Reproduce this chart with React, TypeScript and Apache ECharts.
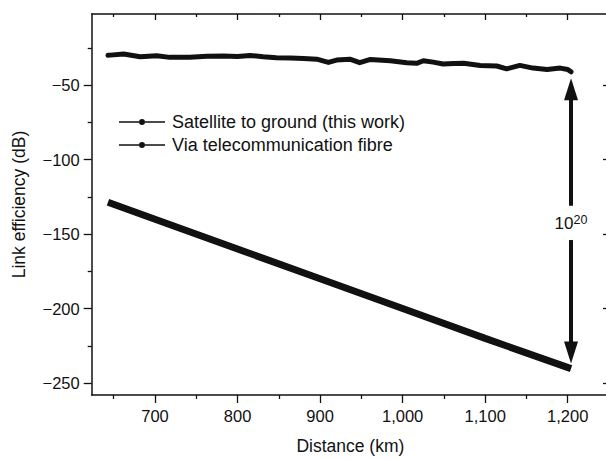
import React, { useEffect, useRef } from 'react';
import * as echarts from 'echarts';

// ---- data ----
const SAT_KM = [643, 646, 662, 682, 702, 718, 742, 763, 783, 800, 815, 831, 847, 864, 880, 896, 910, 920, 936, 948, 961, 985, 1005, 1017, 1025, 1037, 1049, 1062, 1074, 1094, 1114, 1126, 1142, 1158, 1175, 1191, 1200, 1204];
const SAT_DB = [-30.0, -29.9, -29.2, -31.0, -30.3, -31.4, -31.4, -30.7, -30.5, -30.8, -30.1, -31.0, -31.7, -31.9, -32.2, -32.6, -34.8, -33.2, -32.6, -35.0, -32.8, -33.7, -35.0, -35.4, -33.7, -34.6, -35.9, -35.5, -35.4, -36.8, -37.2, -39.1, -36.8, -38.6, -39.5, -38.6, -39.5, -41.1];
const FIB_KM = [643, 700, 800, 900, 1000, 1100, 1204];
const FIB_DB = [-128.6, -140, -160, -180, -200, -220, -240.3];

const X_MAJOR = [700, 800, 900, 1000, 1100, 1200];
const X_MINOR = [650, 750, 850, 950, 1050, 1150, 1250];
const Y_MAJOR = [-50, -100, -150, -200, -250];
const Y_MINOR = [-25, -75, -125, -175, -225];
const X_RANGE = [623.3, 1250];
const Y_RANGE = [-258, -2.3];

const SERIES_NAMES = ['Satellite to ground (this work)', 'Via telecommunication fibre'];

// double-headed arrow (head centres / shaft ends) and its label
const ARROW_KM = 1204;
const ARROW_UP = [-52.8, -131];
const ARROW_DOWN = [-154, -229.5];
const LABEL_DB = -142.6;

const FONT = "'Liberation Sans', Arial, Helvetica, sans-serif";
const INK = '#111111';

const ICON =
  'path://M0,3.3h20v1.4h-20z M26,3.3h20v1.4h-20z M20,4a3,3 0 1,0 6,0a3,3 0 1,0 -6,0z';

function fmtX(v: number) {
  return v >= 1000 ? Math.floor(v / 1000) + ',' + String(v % 1000).padStart(3, '0') : String(v);
}
function fmtY(v: number) {
  return v < 0 ? '\u2212' + Math.abs(v) : String(v);
}

function xAxisDef(position: string, ticks: number[], len: number, inside: boolean, main: boolean) {
  return {
    type: 'value',
    position,
    min: X_RANGE[0],
    max: X_RANGE[1],
    axisLine: { show: main, onZero: false, lineStyle: { color: INK, width: 1.5 } },
    axisTick: { show: true, customValues: ticks, length: len, inside, lineStyle: { color: INK, width: 1.3 } },
    axisLabel: { show: false },
    splitLine: { show: false },
  } as any;
}
function yAxisDef(position: string, ticks: number[], len: number, inside: boolean, main: boolean) {
  return {
    type: 'value',
    position,
    min: Y_RANGE[0],
    max: Y_RANGE[1],
    axisLine: { show: main, onZero: false, lineStyle: { color: INK, width: 1.5 } },
    axisTick: { show: true, customValues: ticks, length: len, inside, lineStyle: { color: INK, width: 1.3 } },
    axisLabel: { show: false },
    splitLine: { show: false },
  } as any;
}

export default function App() {
  const ref = useRef<HTMLDivElement>(null);

  useEffect(() => {
    if (!ref.current) return;
    const chart = echarts.init(ref.current, null, { renderer: 'svg' });

    const xBottom = xAxisDef('bottom', X_MAJOR, 8, false, true);
    xBottom.axisLabel = {
      show: true,
      customValues: X_MAJOR,
      formatter: (v: number) => fmtX(v),
      fontSize: 16.5,
      fontFamily: FONT,
      color: INK,
      margin: 12,
    };
    xBottom.name = 'Distance (km)';
    xBottom.nameLocation = 'middle';
    xBottom.nameGap = 42;
    xBottom.nameTextStyle = { fontSize: 17.5, fontFamily: FONT, color: INK };

    const yLeft = yAxisDef('left', Y_MAJOR, 8, false, true);
    yLeft.axisLabel = {
      show: true,
      customValues: Y_MAJOR,
      formatter: (v: number) => fmtY(v),
      fontSize: 16.5,
      fontFamily: FONT,
      color: INK,
      margin: 12,
    };
    yLeft.name = 'Link efficiency (dB)';
    yLeft.nameLocation = 'middle';
    yLeft.nameGap = 64;
    yLeft.nameTextStyle = { fontSize: 17.5, fontFamily: FONT, color: INK };

    chart.setOption({
      animation: false,
      backgroundColor: '#ffffff',
      grid: { left: 91.7, top: 14, width: 517.3, height: 381, containLabel: false, outerBoundsMode: 'none' },
      xAxis: [
        xBottom,
        xAxisDef('bottom', X_MINOR, 4, false, false),
        xAxisDef('top', X_MAJOR, 6, true, true),
        xAxisDef('top', X_MINOR, 3, true, false),
      ],
      yAxis: [
        yLeft,
        yAxisDef('left', Y_MINOR, 4, false, false),
        yAxisDef('right', Y_MAJOR, 6, true, false),
        yAxisDef('right', Y_MINOR, 3, true, false),
      ],
      legend: {
        orient: 'vertical',
        left: 114,
        top: 108,
        itemWidth: 46,
        itemHeight: 6,
        itemGap: 5,
        selectedMode: false,
        data: SERIES_NAMES.map((n) => ({ name: n, icon: ICON })),
        textStyle: { fontSize: 18, fontFamily: FONT, color: INK, padding: [0, 0, 0, 2] },
      },
      series: [
        {
          type: 'line',
          name: SERIES_NAMES[0],
          data: SAT_KM.map((k, i) => [k, SAT_DB[i]]),
          symbol: 'none',
          color: INK,
          lineStyle: { width: 5, color: INK, join: 'round', cap: 'round' },
          z: 3,
          markLine: {
            silent: true,
            animation: false,
            symbol: ['none', 'none'],
            label: { show: false },
            lineStyle: { color: INK, width: 4, type: 'solid' },
            data: [
              [
                { coord: [ARROW_KM, ARROW_UP[0]], symbol: 'triangle', symbolSize: [14, 22] },
                { coord: [ARROW_KM, ARROW_UP[1]], symbol: 'none' },
              ],
              [
                { coord: [ARROW_KM, ARROW_DOWN[0]], symbol: 'none' },
                { coord: [ARROW_KM, ARROW_DOWN[1]], symbol: 'triangle', symbolSize: [14, 22] },
              ],
            ],
          },
          markPoint: {
            silent: true,
            animation: false,
            symbol: 'rect',
            symbolSize: 1,
            itemStyle: { color: 'rgba(0,0,0,0)' },
            label: {
              show: true,
              position: 'inside',
              formatter: '{a|10}{b|20}',
              rich: {
                a: { fontSize: 17, fontFamily: FONT, color: INK },
                b: { fontSize: 12.5, fontFamily: FONT, color: INK, padding: [0, 0, 7, 0] },
              },
            },
            data: [{ coord: [ARROW_KM, LABEL_DB] }],
          },
        },
        {
          type: 'line',
          name: SERIES_NAMES[1],
          data: FIB_KM.map((k, i) => [k, FIB_DB[i]]),
          symbol: 'none',
          color: INK,
          lineStyle: { width: 7, color: INK },
          z: 2,
        },
      ],
    } as any);

    return () => chart.dispose();
  }, []);

  return (
    <div
      style={{
        position: 'fixed',
        left: 0,
        top: 0,
        width: 606,
        height: 459,
        overflow: 'hidden',
        background: '#ffffff',
      }}
    >
      <div ref={ref} style={{ width: 620, height: 459 }} />
    </div>
  );
}
